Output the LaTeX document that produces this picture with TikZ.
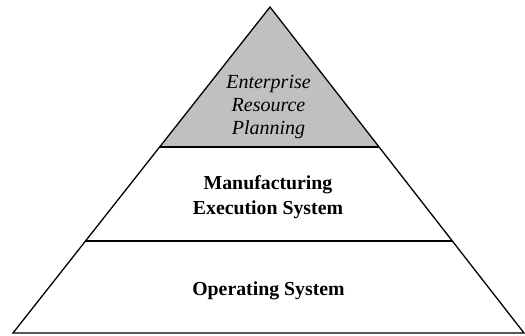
\documentclass[tikz,border=0pt]{standalone}
\usepackage{fontspec}
\setmainfont{Liberation Serif}
\usetikzlibrary{calc}
\definecolor{layergray}{RGB}{192,192,192}
\tikzset{
  edge/.style={line width=1.3pt},
  level/.style={inner sep=0pt, align=center},
}
\begin{document}
\begin{tikzpicture}[x=1pt,y=-1pt]
    \useasboundingbox (0,0) rectangle (525,336);
    \coordinate (apex) at (270,7);
    \coordinate (bl) at (13,333);
    \coordinate (br) at (524,333);
    \coordinate (l1) at ($(apex)!0.4294!(bl)$);
    \coordinate (r1) at ($(apex)!0.4294!(br)$);
    \coordinate (l2) at ($(apex)!0.7178!(bl)$);
    \coordinate (r2) at ($(apex)!0.7178!(br)$);
    % top layer
    \fill[layergray] (apex) -- (r1) -- (l1) -- cycle;
    \draw[edge] (l1) -- (r1);
    \draw[edge] (l2) -- (r2);
    \draw[edge,line join=miter] (apex) -- (br) -- (bl) -- cycle;
    % labels
    \node[level,font=\fontsize{20}{23}\selectfont\itshape] (erp) at (268.5,107)
      {Enterprise\\Resource\\Planning};
    \node[level,font=\fontsize{19.8}{24.5}\selectfont\bfseries] (mes) at (268,197)
      {Manufacturing\\Execution System};
    \node[level,font=\fontsize{19.8}{24.5}\selectfont\bfseries] (os) at (268.5,291)
      {Operating System};
  \end{tikzpicture}
\end{document}
